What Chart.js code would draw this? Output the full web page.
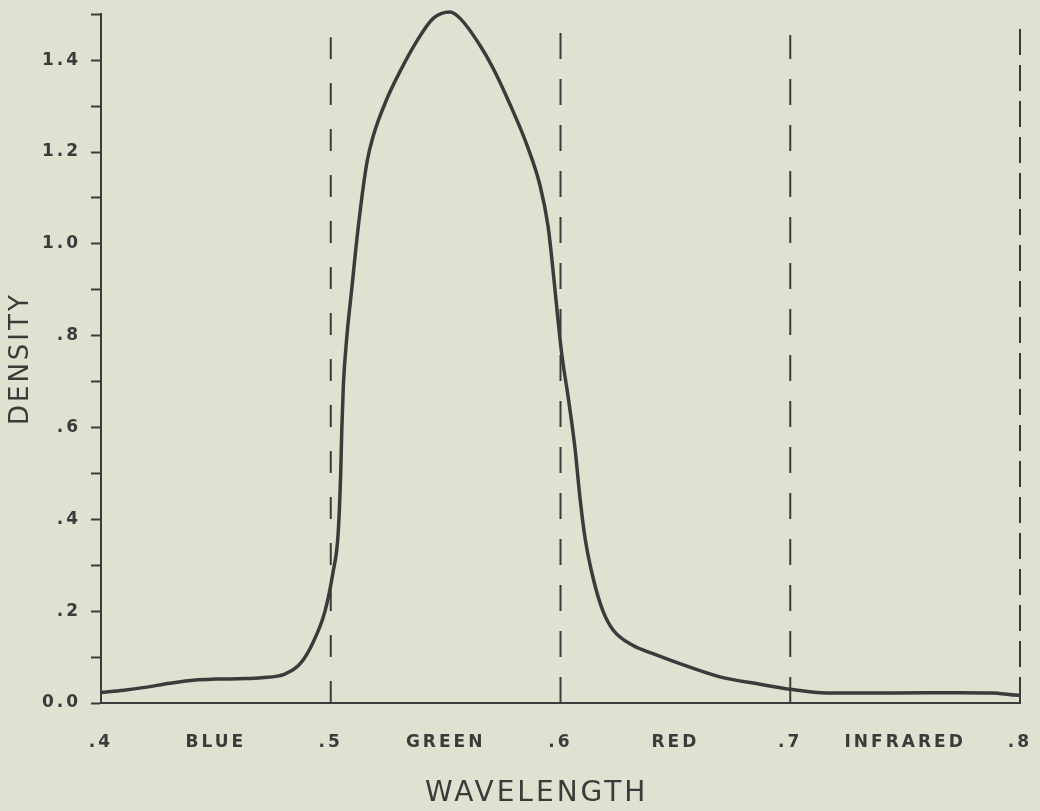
<!DOCTYPE html>
<html>
<head>
<meta charset="utf-8">
<title>Density vs wavelength</title>
<script src="https://cdn.jsdelivr.net/npm/chart.js@4.4.1/dist/chart.umd.min.js"></script>
<style>
    html, body { margin: 0; padding: 0; background: #dfe1d1; }
    #wrap { width: 1040px; height: 811px; }
</style>
</head>
<body>
<div id="wrap"><canvas id="chart-density" width="1040" height="811"></canvas></div>
<script>
// Curva de densidad (longitud de onda en micras)
const wavelengths = [
    0.400, 0.410, 0.419, 0.430, 0.441, 0.450, 0.460, 0.470, 0.480, 0.4866,
    0.4923, 0.4975, 0.501, 0.5032, 0.5043, 0.5048, 0.5055, 0.5069, 0.5091, 0.512,
    0.5157, 0.5185, 0.5243, 0.530, 0.5374, 0.5446, 0.5519, 0.5563, 0.565, 0.5706,
    0.578, 0.5854, 0.5911, 0.5946, 0.5962, 0.5984, 0.6005, 0.6034, 0.6063, 0.6085,
    0.6107, 0.6143, 0.6185, 0.6229, 0.6316, 0.640, 0.6507, 0.6694, 0.6868, 0.6999,
    0.716, 0.7447, 0.7739, 0.7882, 0.7991, 0.800
];
const densities = [
    0.023, 0.028, 0.034, 0.043, 0.050, 0.052, 0.053, 0.055, 0.063, 0.085,
    0.132, 0.200, 0.285, 0.368, 0.496, 0.594, 0.693, 0.792, 0.900, 1.038,
    1.176, 1.235, 1.314, 1.374, 1.441, 1.491, 1.505, 1.491, 1.432, 1.383,
    1.304, 1.215, 1.127, 1.038, 0.969, 0.860, 0.762, 0.664, 0.555, 0.446,
    0.359, 0.270, 0.200, 0.159, 0.125, 0.108, 0.088, 0.057, 0.041, 0.030,
    0.022, 0.022, 0.0225, 0.022, 0.017, 0.017
];

// Lineas discontinuas que separan las bandas
const bandEdges = [0.5, 0.6, 0.7, 0.8];
const bandEdgeTops = [1.45, 1.465, 1.455, 1.48];

// Etiquetas de los ejes
const xTickValues = [0.40, 0.45, 0.50, 0.55, 0.60, 0.65, 0.70, 0.75, 0.80];
const xTickLabels = ['.4', 'BLUE', '.5', 'GREEN', '.6', 'RED', '.7', 'INFRARED', '.8'];
const yTickValues = [0, 0.1, 0.2, 0.3, 0.4, 0.5, 0.6, 0.7, 0.8, 0.9, 1.0, 1.1, 1.2, 1.3, 1.4, 1.5];
const yTickLabels = ['0.0', '', '.2', '', '.4', '', '.6', '', '.8', '', '1.0', '', '1.2', '', '1.4', ''];

const INK = '#3b3b3b';
const dashes = [[22, 24], [26, 20], [26, 20], [26, 10]];

// espaciado de letras como en el rotulado original
const letterSpacingPlugin = {
    id: 'letterSpacing',
    beforeDraw(chart) {
        chart.ctx.letterSpacing = '3px';
    }
};

function createDensityChart() {
    const ctx = document.getElementById('chart-density');

    const curve = {
        label: 'Density',
        data: wavelengths.map((w, i) => ({ x: w, y: densities[i] })),
        borderColor: INK,
        borderWidth: 3.5,
        pointRadius: 0,
        cubicInterpolationMode: 'monotone',
        clip: 8,
        fill: false
    };

    const edgeLines = bandEdges.map((w, i) => ({
        label: 'edge ' + w,
        data: [{ x: w, y: 0 }, { x: w, y: bandEdgeTops[i] }],
        borderColor: INK,
        borderWidth: 2,
        borderDash: dashes[i],
        pointRadius: 0,
        clip: 4,
        fill: false
    }));

    new Chart(ctx, {
        type: 'line',
        data: { datasets: edgeLines.concat([curve]) },
        options: {
            responsive: false,
            animation: false,
            layout: { padding: { top: 14, right: 20, left: 0, bottom: 0 } },
            plugins: {
                legend: { display: false },
                tooltip: { enabled: false }
            },
            scales: {
                x: {
                    type: 'linear',
                    min: 0.4,
                    max: 0.8,
                    afterBuildTicks: (scale) => {
                        scale.ticks = xTickValues.map(v => ({ value: v }));
                    },
                    afterFit: (scale) => { scale.height = 108; },
                    grid: {
                        display: true,
                        drawOnChartArea: false,
                        drawTicks: true,
                        tickLength: 26,
                        tickColor: 'rgba(0,0,0,0)'
                    },
                    border: { display: true, color: INK, width: 2 },
                    ticks: {
                        autoSkip: false,
                        maxRotation: 0,
                        padding: 3,
                        color: INK,
                        font: { family: 'DejaVu Sans', size: 17, weight: 'bold' },
                        callback: (value, index) => xTickLabels[index]
                    },
                    title: {
                        display: true,
                        text: 'WAVELENGTH    ',
                        color: INK,
                        font: { family: 'DejaVu Sans', size: 28, weight: 'normal' },
                        padding: { top: 0, bottom: 0 }
                    }
                },
                y: {
                    min: 0,
                    max: 1.5,
                    afterBuildTicks: (scale) => {
                        scale.ticks = yTickValues.map(v => ({ value: v }));
                    },
                    afterFit: (scale) => { scale.width = 101; },
                    grid: {
                        drawOnChartArea: false,
                        drawTicks: true,
                        tickLength: 10,
                        tickColor: INK,
                        tickWidth: 2
                    },
                    border: { display: true, color: INK, width: 2 },
                    ticks: {
                        autoSkip: false,
                        padding: 10,
                        color: INK,
                        font: { family: 'DejaVu Sans', size: 17, weight: 'bold', lineHeight: 0.5 },
                        callback: (value, index) => yTickLabels[index]
                    },
                    title: {
                        display: true,
                        text: 'DENSITY',
                        color: INK,
                        font: { family: 'DejaVu Sans', size: 26, weight: 'normal' },
                        padding: { top: 6, bottom: 0 }
                    }
                }
            }
        },
        plugins: [letterSpacingPlugin]
    });
}

createDensityChart();
</script>
</body>
</html>
